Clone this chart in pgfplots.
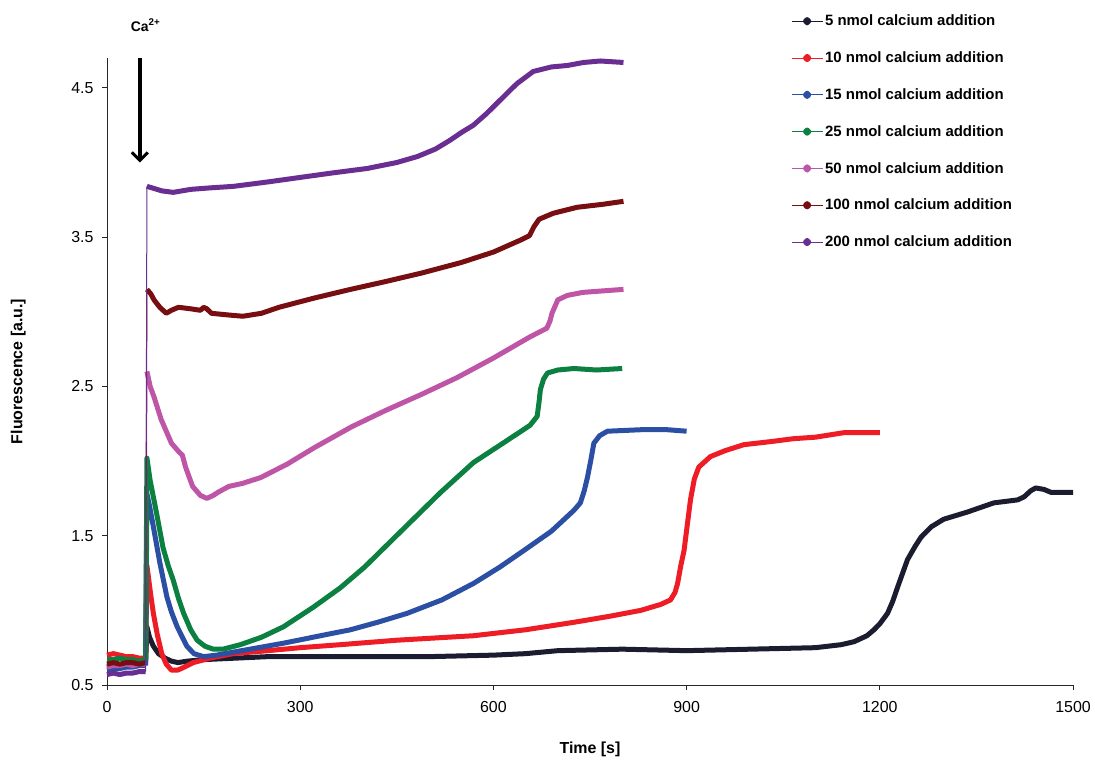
\documentclass[border=0pt]{standalone}
\usepackage{pgfplots}
\pgfplotsset{compat=1.18}
\usepackage{fontspec}
\setmainfont{Liberation Sans}
\usetikzlibrary{arrows.meta}
\definecolor{cA}{HTML}{1B1C30}
\definecolor{cB}{HTML}{EE1C25}
\definecolor{cC}{HTML}{2B50A3}
\definecolor{cD}{HTML}{0B8040}
\definecolor{cE}{HTML}{BF55A6}
\definecolor{cF}{HTML}{770E12}
\definecolor{cG}{HTML}{6A2E92}
\begin{document}
\begin{tikzpicture}
\begin{axis}[
 at={(107bp,78bp)}, anchor=south west, width=966bp, height=627bp, scale only axis,
 xmin=0, xmax=1500, ymin=0.5, ymax=4.7,
 xtick={0,300,...,1500}, ytick={0.5,1.5,2.5,3.5,4.5},
 axis x line=bottom, axis y line=left,
 axis line style={-, line width=0.8bp, black!85},
 tick align=outside, major tick length=5bp, tick style={black!85, line width=0.8bp},
 /pgf/number format/assume math mode=true,
 /pgf/number format/1000 sep={},
 ticklabel style={font=\fontsize{16}{18}\selectfont},
 xticklabel style={yshift=-8bp},
 yticklabel style={xshift=-5bp, /pgf/number format/fixed, /pgf/number format/precision=1, /pgf/number format/fixed zerofill},
 xlabel={Time [s]}, ylabel={Fluorescence [a.u.]},
 label style={font=\bfseries\fontsize{16}{18}\selectfont},
 xlabel style={at={(axis description cs:0.5,-0.103)}, anchor=center},
 ylabel style={at={(axis description cs:-0.092,0.5)}, anchor=center},
 clip=false,
 legend cell align=left,
 legend style={at={(rel axis cs:0.708,1.072)}, anchor=north west, draw=none, fill=none,
   font=\bfseries\fontsize{15}{17}\selectfont, row sep=20.5bp, inner sep=0pt},
 legend image code/.code={\draw[#1, line width=1bp] (0bp,0bp) -- (31bp,0bp); \fill[#1] (15.5bp,0bp) circle (1.6bp);},
 every axis plot/.append style={line width=5bp, line join=round},
]
% 5 nmol
\addplot[cA, forget plot] coordinates {(0,0.62)(10,0.63)(20,0.62)(30,0.63)(40,0.64)(50,0.64)(60,0.65)};
\addplot[cA] coordinates {(60,0.65)(62,0.89)(66,0.82)(72,0.76)(80,0.71)(90,0.68)(100,0.66)(110,0.65)(125,0.66)(150,0.67)(200,0.68)(250,0.69)(300,0.69)(400,0.69)(500,0.69)(600,0.70)(650,0.71)(700,0.73)(800,0.74)(900,0.73)(1000,0.74)(1100,0.75)(1140,0.77)(1160,0.79)(1180,0.83)(1191,0.87)(1200,0.91)(1212,0.98)(1220,1.06)(1228,1.16)(1243,1.34)(1255,1.43)(1264,1.49)(1280,1.56)(1299,1.61)(1337,1.66)(1377,1.72)(1414,1.74)(1424,1.76)(1434,1.80)(1442,1.82)(1455,1.81)(1466,1.79)(1500,1.79)};
\addlegendentry{5 nmol calcium addition}
% 10 nmol
\addplot[cB, forget plot] coordinates {(0,0.70)(10,0.71)(20,0.70)(30,0.69)(40,0.69)(50,0.68)(60,0.68)};
\addplot[cB] coordinates {(60,0.68)(62,1.30)(65,1.20)(68,1.10)(72,0.98)(78,0.84)(85,0.71)(92,0.64)(100,0.60)(110,0.60)(120,0.62)(134,0.65)(160,0.68)(196,0.71)(250,0.73)(300,0.75)(362,0.77)(450,0.80)(569,0.83)(650,0.87)(725,0.92)(780,0.96)(829,1.00)(860,1.04)(875,1.07)(882,1.12)(886,1.18)(891,1.30)(896,1.40)(901,1.57)(906,1.74)(912,1.88)(919,1.96)(937,2.03)(960,2.07)(989,2.11)(1030,2.13)(1066,2.15)(1100,2.16)(1144,2.19)(1175,2.19)(1200,2.19)};
\addlegendentry{10 nmol calcium addition}
% 15 nmol
\addplot[cC, forget plot] coordinates {(0,0.60)(10,0.61)(20,0.61)(30,0.62)(40,0.62)(50,0.63)(60,0.63)};
\addplot[cC] coordinates {(60,0.63)(62,1.78)(66,1.70)(72,1.56)(82,1.32)(93,1.09)(100,0.99)(109,0.89)(124,0.76)(135,0.71)(150,0.69)(170,0.70)(196,0.72)(235,0.75)(274,0.78)(320,0.82)(378,0.87)(420,0.92)(466,0.98)(520,1.07)(569,1.18)(610,1.29)(647,1.40)(690,1.53)(725,1.67)(735,1.72)(741,1.80)(746,1.89)(751,2.00)(756,2.12)(765,2.17)(777,2.20)(829,2.21)(870,2.21)(900,2.20)};
\addlegendentry{15 nmol calcium addition}
% 25 nmol
\addplot[cD, forget plot] coordinates {(0,0.67)(10,0.67)(20,0.68)(30,0.67)(40,0.67)(50,0.66)(60,0.67)};
\addplot[cD] coordinates {(60,0.67)(62,2.02)(67,1.87)(77,1.65)(87,1.42)(95,1.30)(103,1.20)(111,1.08)(119,0.98)(130,0.87)(140,0.80)(152,0.76)(165,0.74)(180,0.74)(207,0.77)(240,0.82)(274,0.89)(320,1.02)(362,1.15)(400,1.29)(466,1.57)(518,1.79)(569,1.99)(622,2.14)(657,2.24)(668,2.30)(671,2.40)(673,2.48)(678,2.55)(684,2.59)(700,2.61)(725,2.62)(760,2.61)(800,2.62)};
\addlegendentry{25 nmol calcium addition}
% 50 nmol
\addplot[cE, forget plot] coordinates {(0,0.62)(10,0.63)(20,0.63)(30,0.64)(40,0.63)(50,0.64)(60,0.64)};
\addplot[cE, line width=1bp, forget plot] coordinates {(60,0.64)(62,2.60)};
\addplot[cE] coordinates {(62,2.60)(67,2.50)(73,2.43)(84,2.28)(100,2.12)(112,2.06)(117,2.04)(122,1.96)(127,1.90)(133,1.83)(145,1.77)(155,1.75)(165,1.77)(172,1.79)(189,1.83)(210,1.85)(239,1.89)(280,1.98)(322,2.09)(380,2.23)(433,2.34)(490,2.45)(544,2.56)(600,2.69)(656,2.83)(683,2.89)(688,2.94)(691,2.99)(700,3.08)(715,3.11)(739,3.13)(770,3.14)(802,3.15)};
\addlegendentry{50 nmol calcium addition}
% 100 nmol
\addplot[cF, forget plot] coordinates {(0,0.64)(10,0.65)(20,0.64)(30,0.65)(40,0.65)(50,0.64)(60,0.65)};
\addplot[cF, line width=1bp, forget plot] coordinates {(60,0.65)(62,3.15)};
\addplot[cF] coordinates {(62,3.15)(68,3.12)(73,3.08)(82,3.03)(92,2.99)(100,3.01)(111,3.03)(130,3.02)(145,3.01)(150,3.03)(155,3.02)(162,2.99)(185,2.98)(211,2.97)(240,2.99)(267,3.03)(320,3.09)(378,3.15)(430,3.20)(489,3.26)(550,3.33)(600,3.40)(642,3.48)(656,3.51)(663,3.57)(671,3.62)(693,3.66)(730,3.70)(770,3.72)(802,3.74)};
\addlegendentry{100 nmol calcium addition}
% 200 nmol
\addplot[cG, forget plot] coordinates {(0,0.57)(10,0.58)(20,0.57)(30,0.58)(40,0.58)(50,0.59)(60,0.59)};
\addplot[cG, line width=1bp, forget plot] coordinates {(60,0.59)(62,3.84)};
\addplot[cG] coordinates {(62,3.84)(70,3.83)(85,3.81)(103,3.80)(130,3.82)(160,3.83)(196,3.84)(250,3.87)(300,3.90)(350,3.93)(404,3.96)(450,4.00)(482,4.04)(510,4.09)(533,4.15)(550,4.20)(569,4.25)(590,4.33)(611,4.42)(625,4.48)(637,4.53)(662,4.61)(690,4.64)(715,4.65)(740,4.67)(766,4.68)(802,4.67)};
\addlegendentry{200 nmol calcium addition}
\draw[line width=3.5bp, -{Straight Barb[length=8bp, width=16bp, line width=3bp]}] (axis cs:51,4.70) -- (axis cs:51,4.0);
\node[font=\bfseries\fontsize{14}{16}\selectfont] at (axis cs:60,4.92) {Ca\textsuperscript{2+}};
\end{axis}
\pgfresetboundingbox
\path[use as bounding box] (0,0) rectangle (1095bp,763bp);
\end{tikzpicture}
\end{document}
